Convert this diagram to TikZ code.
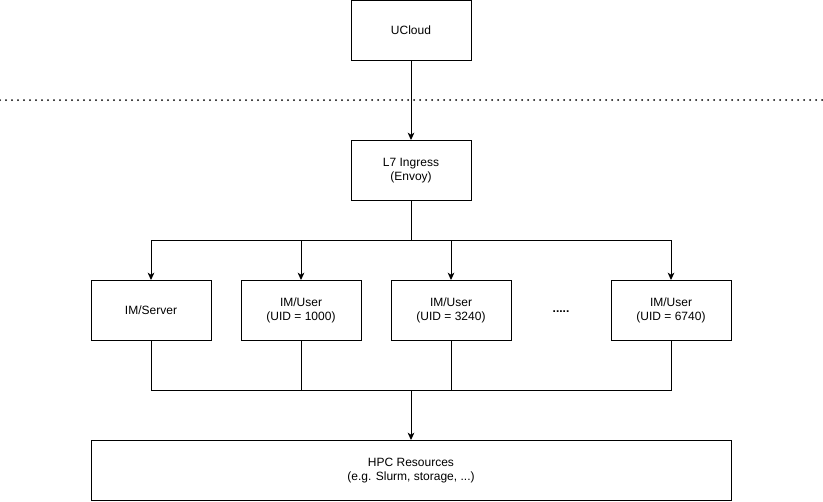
\documentclass[tikz,border=0pt]{standalone}
\usepackage{fontspec}
\setmainfont{Liberation Sans}
\usetikzlibrary{arrows.meta}
\begin{document}
\begin{tikzpicture}[x=0.75pt,y=-0.75pt,
  box/.style={draw, line width=0.75pt, minimum width=90pt, minimum height=45pt, inner sep=0pt, align=center, font=\fontsize{9}{10.5}\selectfont},
  conn/.style={line width=0.75pt},
  arr/.style={conn, -{Stealth[length=5.5pt,width=5pt,inset=1.5pt]}}]
\useasboundingbox (0,0) rectangle (823,501);
\node[box] (ucloud) at (411,30.5) {UCloud};
\node[box] (ingress) at (411,170.5) {L7 Ingress\\(Envoy)};
\node[box] (server) at (151,310.5) {IM/Server};
\node[box] (u1) at (301,310.5) {IM/User\\(UID = 1000)};
\node[box] (u2) at (451,310.5) {IM/User\\(UID = 3240)};
\node[font=\fontsize{9}{10.5}\selectfont\bfseries] (dots) at (561,312) {.....};
\node[box] (u3) at (671,310.5) {IM/User\\(UID = 6740)};
\node[box, minimum width=480pt] (hpc) at (411,470.5) {HPC Resources\\(e.g. Slurm, storage, ...)};
\coordinate (dl) at (0,100);
\coordinate (dr) at (823,100);
\draw[line width=1.5pt, line cap=round, dash pattern=on 0pt off 4.5pt] (dl) -- (dr);
\draw[arr] (ucloud) -- (ingress);
\coordinate (top) at (411,240);
\coordinate (bot) at (411,390);
\draw[conn] (ingress.south) -- (top);
\draw[arr] (top) -| (server.north);
\draw[arr] (top) -| (u1.north);
\draw[arr] (top) -| (u2.north);
\draw[arr] (top) -| (u3.north);
\draw[conn] (server.south) |- (bot);
\draw[conn] (u1.south) |- (bot);
\draw[conn] (u2.south) |- (bot);
\draw[conn] (u3.south) |- (bot);
\draw[arr] (bot) -- (hpc.north);
\end{tikzpicture}
\end{document}
